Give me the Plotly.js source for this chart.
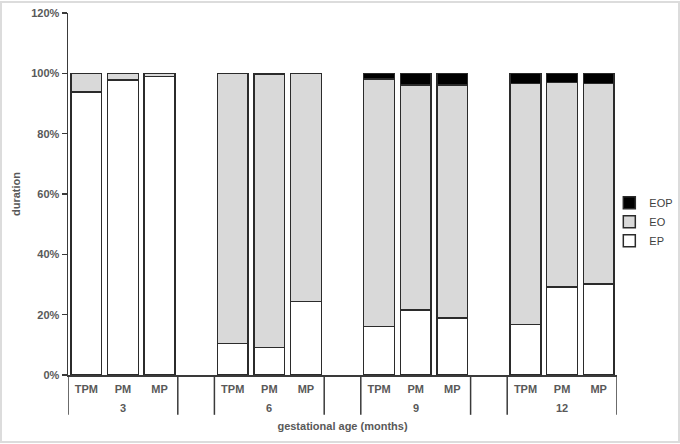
<!DOCTYPE html>
<html><head><meta charset="utf-8">
<script src="https://cdn.plot.ly/plotly-3.0.1.min.js"></script>
<style>body{margin:0;background:#fff}#c{width:680px;height:444px}</style>
</head><body><div id="c"></div>
<script>
const groups = ['3', '6', '9', '12'];
const subCats = ['TPM', 'PM', 'MP'];
const EP  = [93.8, 97.8, 98.9, 10.4, 9.1, 24.4, 16.1, 21.6, 18.9, 16.7, 29.1, 30.1];
const EO  = [6.2, 2.2, 1.1, 89.6, 90.6, 75.6, 82.0, 74.6, 77.3, 79.9, 67.8, 66.5];
const EOP = [0, 0, 0, 0, 0.3, 0, 1.9, 3.8, 3.8, 3.4, 3.1, 3.4];
const yTicks = [0, 20, 40, 60, 80, 100, 120];

const slot = 4; // 3 bars + 1 empty slot per group
const xs = [], tickText = [];
groups.forEach((g, gi) => subCats.forEach((s, si) => { xs.push(gi * slot + si); tickText.push(s); }));

const font = {family: 'Liberation Sans, Arial, sans-serif', size: 11, color: '#595959'};
const line = {color: '#2b2b2b', width: 1.5};
function tr(name, y, color) {
  return {type: 'bar', name: name, x: xs, y: y, width: 0.84,
    marker: {color: color, line: line}, hoverinfo: 'skip'};
}
const data = [tr('EP', EP, '#ffffff'), tr('EO', EO, '#d9d9d9'), tr('EOP', EOP, '#000000')];

const shapes = [], annotations = [];
const sepY = -0.11;
groups.forEach((g, gi) => {
  const x0 = gi * slot - 0.5, x1 = gi * slot + subCats.length - 0.5;
  [x0, x1].forEach(xv => shapes.push({type: 'line', xref: 'x', yref: 'paper', x0: xv, x1: xv, y0: 0, y1: sepY,
    line: {color: '#3a3a3a', width: 1.5}}));
  annotations.push({xref: 'x', yref: 'paper', x: gi * slot + 1, y: -0.092, text: '<b>' + g + '</b>',
    showarrow: false, yanchor: 'middle', font: font});
});
// outer frame of the picture
shapes.push({type: 'rect', xref: 'paper', yref: 'paper', x0: -67/549, x1: 611/549, y0: -67/362, y1: 373/362,
  line: {color: '#dcdcdc', width: 2}, fillcolor: 'rgba(0,0,0,0)', layer: 'below'});

const layout = {
  width: 680, height: 444,
  margin: {l: 68, r: 63, t: 13, b: 69, autoexpand: false},
  paper_bgcolor: '#fff', plot_bgcolor: '#fff',
  barmode: 'stack', bargap: 0,
  font: font,
  showlegend: true,
  legend: {x: 0.986, xanchor: 'left', y: 0.423, yanchor: 'middle', traceorder: 'reversed',
    font: {family: 'Liberation Sans, Arial, sans-serif', size: 11, color: '#404040'},
    itemwidth: 30, tracegroupgap: 0, bgcolor: 'rgba(0,0,0,0)'},
  xaxis: {range: [-0.5, groups.length * slot - 1.5], tickvals: xs, ticktext: tickText.map(t => '<b>' + t + '</b>'),
    showgrid: false, zeroline: false, showline: true, linecolor: '#3a3a3a', linewidth: 1.5,
    ticks: '', ticklabelstandoff: 3, tickfont: font, fixedrange: true,
    title: {text: '<b>gestational age (months)</b>', font: font, standoff: 28}},
  yaxis: {range: [0, 120], tickvals: yTicks, ticktext: yTicks.map(v => '<b>' + v + '%</b>'),
    showgrid: false, zeroline: false, showline: true, linecolor: '#3a3a3a', linewidth: 1.5,
    ticks: 'outside', ticklen: 5, tickcolor: '#3a3a3a', tickwidth: 1.5, tickfont: font,
    title: {text: '<b>duration</b>', font: font, standoff: 8}},
  shapes: shapes, annotations: annotations
};
Plotly.newPlot('c', data, layout, {staticPlot: true, displayModeBar: false});
</script></body></html>
